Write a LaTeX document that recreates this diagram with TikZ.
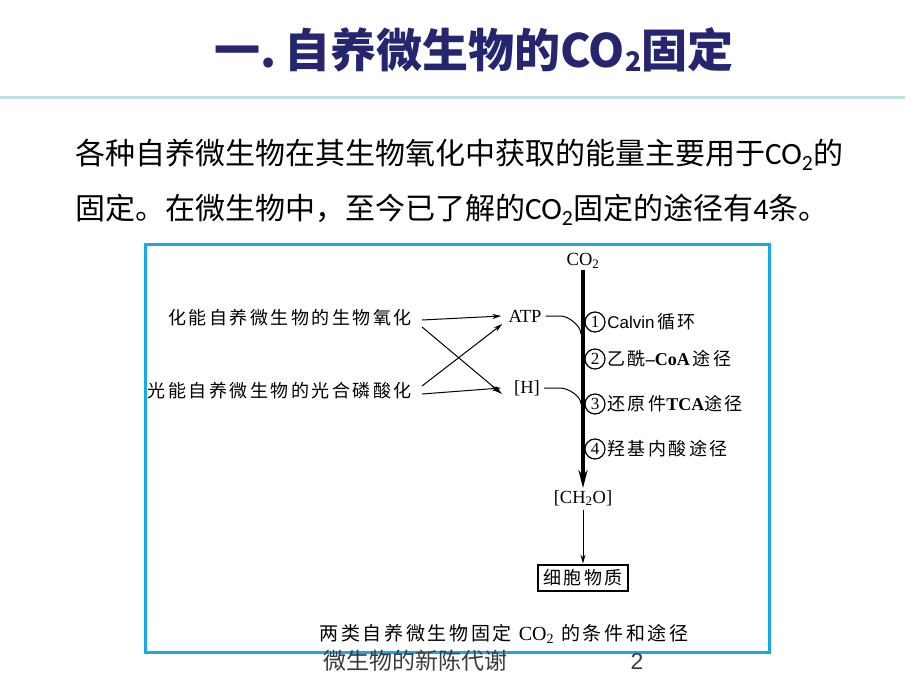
\documentclass[tikz,border=0pt]{standalone}
\usepackage{fontspec}
\setmainfont{Liberation Serif}
\newfontfamily\cjk{Noto Sans CJK SC}
\newfontfamily\cjksp{Noto Sans CJK SC}[LetterSpace=14]
\newfontfamily\calib{Carlito}
\newfontfamily\lsans{Liberation Sans}
\usetikzlibrary{arrows.meta}
\definecolor{titleblue}{RGB}{38,38,112}
\definecolor{framecyan}{RGB}{22,170,235}
\definecolor{rulecol}{RGB}{192,224,230}
\definecolor{footgray}{RGB}{60,60,60}
\tikzset{
  thinarr/.style={line width=1pt,-{Stealth[length=9pt,width=5pt]}},
  thinline/.style={line width=1pt},
  leftlab/.style={inner sep=0pt,font=\cjksp\fontsize{18}{20}\selectfont},
  chem/.style={inner sep=1pt,font=\fontsize{18.5}{20}\selectfont},
  circnum/.style={draw,circle,line width=1.2pt,minimum size=20pt,inner sep=0pt,font=\fontsize{17}{17}\selectfont},
  pathlab/.style={anchor=west,inner sep=1.5pt,font=\cjksp\fontsize{18}{20}\selectfont},
}
\begin{document}
\begin{tikzpicture}[x=1pt,y=-1pt]
\useasboundingbox (0,0) rectangle (920,690);
\fill[white] (0,0) rectangle (920,690);
% title
\node[text=titleblue,font=\cjk\bfseries\fontsize{46}{50}\selectfont,inner sep=0pt] (title) at (474,50)
  {一.\,自养微生物的CO\raisebox{-0.08em}{\fontsize{27}{27}\selectfont 2}固定};
\coordinate (r1) at (0,98);
\coordinate (r2) at (905,98);
\draw[rulecol,line width=3pt] (r1) -- (r2);
% paragraph
\node[anchor=west,inner sep=0pt,font=\cjk\fontsize{30}{32}\selectfont] (p1) at (75,155)
  {各种自养微生物在其生物氧化中获取的能量主要用于{\calib\fontsize{31}{32}\selectfont CO\textsubscript{2}}的};
\node[anchor=west,inner sep=0pt,font=\cjk\fontsize{30}{32}\selectfont] (p2) at (75,210)
  {固定。在微生物中，至今已了解的{\calib\fontsize{31}{32}\selectfont CO\textsubscript{2}}固定的途径有{\calib 4}条。};
% frame
\draw[framecyan,line width=3pt] (145,244) rectangle (769,652);
% left labels
\node[leftlab,anchor=east] (chemo) at (412,318) {化能自养微生物的生物氧化};
\node[leftlab,anchor=east] (photo) at (412,391) {光能自养微生物的光合磷酸化};
\node[chem] (atp) at (525,316) {ATP};
\node[chem] (h) at (527,388) {[H]};
\draw[thinarr] ([xshift=10pt,yshift=-2pt]chemo.east) -- ([xshift=-6pt]atp.west);
\draw[thinarr] ([xshift=10pt,yshift=-3pt]photo.east) -- ([xshift=-12pt]h.west);
\draw[thinarr] ([xshift=10pt,yshift=-9pt]chemo.east) -- ([xshift=-11pt,yshift=-6pt]h.west);
\draw[thinarr] ([xshift=10pt,yshift=5pt]photo.east) -- ([xshift=-5pt,yshift=-8pt]atp.west);
% central column
\node[chem] (co2) at (583,261) {CO\textsubscript{2}};
\node[chem] (ch2o) at (583,498) {[CH\textsubscript{2}O]};
\draw[line width=4.5pt,-{Stealth[length=18pt,width=9pt]}] (co2.south) -- ([yshift=1pt]ch2o.north);
\coordinate (j1) at (581,334);
\coordinate (j2) at (581,404);
\draw[thinline] ([xshift=3pt]atp.east) -- ++(15,0) .. controls +(8,0) and +(0,-8) .. (j1);
\draw[thinline] ([xshift=3pt]h.east) -- ++(16,0) .. controls +(8,0) and +(0,-8) .. (j2);
\node[draw,line width=2.2pt,inner sep=5pt,font=\cjksp\fontsize{18}{20}\selectfont] (cell) at (583,578) {细胞物质};
\draw[thinarr] ([yshift=-3pt]ch2o.south) -- (cell.north);
% pathways
\node[circnum] (c1) at (595,322) {1};
\node[circnum] (c2) at (595,359) {2};
\node[circnum] (c3) at (595,404) {3};
\node[circnum] (c4) at (595,449) {4};
\node[pathlab] (l1) at (c1.east) {{\lsans\fontsize{17}{19}\selectfont Calvin\,}循环};
\node[pathlab] (l2) at (c2.east) {乙酰{\rmfamily\bfseries\fontsize{18}{20}\selectfont –CoA\,}途径};
\node[pathlab] (l3) at (c3.east) {还原件{\rmfamily\bfseries\fontsize{18}{20}\selectfont TCA}途径};
\node[pathlab] (l4) at (c4.east) {羟基内酸途径};
% caption
\node[inner sep=0pt,font=\cjksp\fontsize{19}{21}\selectfont] (cap) at (504,634)
  {两类自养微生物固定 {\rmfamily\fontsize{20}{21}\selectfont CO\textsubscript{2}} 的条件和途径};
% footer
\node[inner sep=0pt,text=footgray,font=\cjk\fontsize{23}{25}\selectfont] (foot) at (415,661) {微生物的新陈代谢};
\node[inner sep=0pt,text=footgray,font=\lsans\fontsize{23}{25}\selectfont] (pg) at (637,661) {2};
\end{tikzpicture}
\end{document}
